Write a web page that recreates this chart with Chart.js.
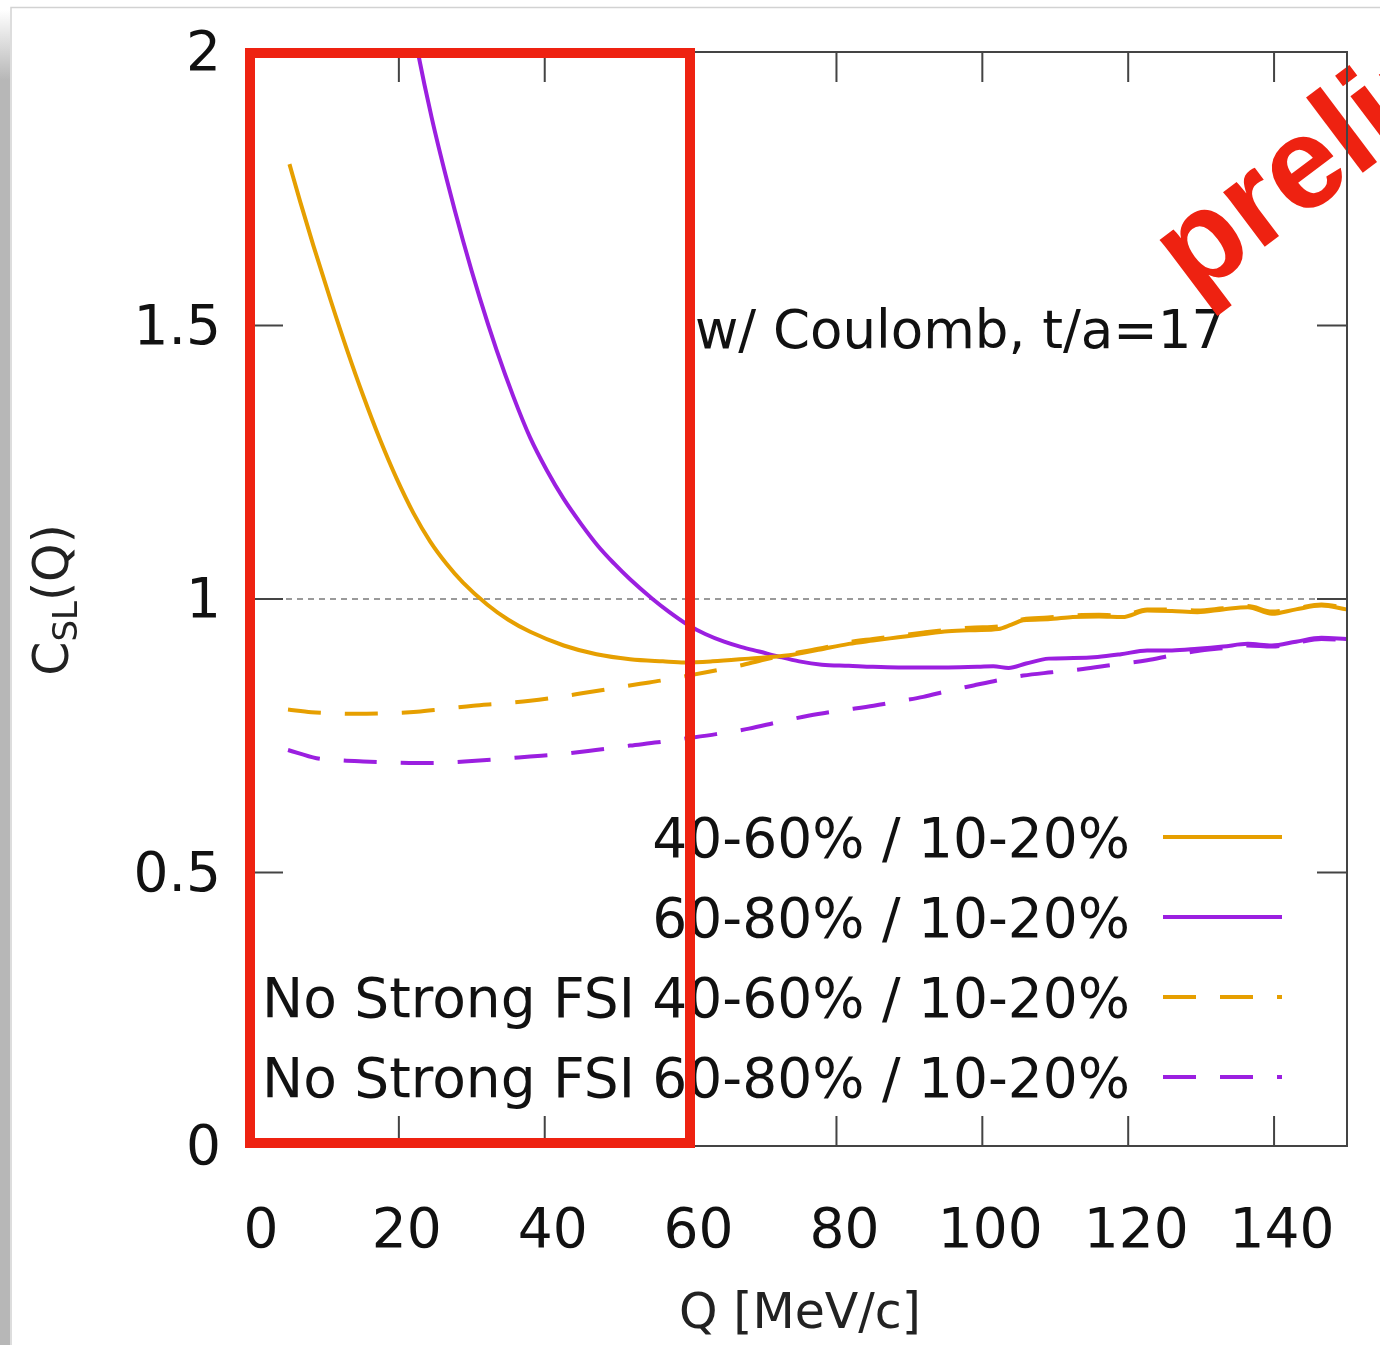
<!DOCTYPE html>
<html>
<head>
<meta charset="utf-8">
<script src="https://cdn.jsdelivr.net/npm/chart.js@4.4.1/dist/chart.umd.min.js"></script>
<style>
  html, body { margin: 0; padding: 0; background: #fff; }
  canvas { display: block; }
</style>
</head>
<body>
<canvas id="myChart" width="1380" height="1345"></canvas>
<script>
// values, Q in MeV/c
var qSolid4060 = [5.0, 6.5, 8.3, 10.6, 12.9, 15.1, 17.4, 19.7, 22, 24.3, 26.5, 28.8, 32.1, 35, 38.0, 42.6, 47.1, 51.7, 56.2, 59.2, 63, 68.0, 73.5, 77.5, 81.7, 85, 88.5, 92, 95.3, 99, 102.2, 104, 105.6, 109, 112.4, 116, 119.2, 122.6, 126, 129.5, 133, 136.4, 139.7, 143, 146.5, 149.9];
var cSolid4060 = [1.795, 1.725, 1.645, 1.548, 1.455, 1.372, 1.292, 1.220, 1.157, 1.105, 1.065, 1.030, 0.990, 0.962, 0.940, 0.915, 0.899, 0.890, 0.886, 0.884, 0.886, 0.891, 0.897, 0.907, 0.918, 0.924, 0.930, 0.936, 0.941, 0.943, 0.945, 0.953, 0.961, 0.963, 0.967, 0.968, 0.967, 0.979, 0.978, 0.976, 0.981, 0.985, 0.973, 0.981, 0.988, 0.981];

var qSolid6080 = [20, 22.6, 24.5, 26.6, 28.8, 31.1, 33.4, 35.7, 38.0, 40.3, 42.6, 45, 47.3, 49.5, 51.7, 54.7, 57, 59.6, 62, 64.6, 67, 69.4, 72, 74.9, 78, 81.7, 85, 88.5, 92, 95.3, 99.4, 101.5, 103.6, 106, 109.1, 112.5, 115.8, 119, 122.6, 126, 129.5, 133, 136.4, 139.7, 143, 146.5, 149.9];
var cSolid6080 = [2.19, 2.0, 1.88, 1.765, 1.655, 1.55, 1.455, 1.37, 1.295, 1.235, 1.183, 1.137, 1.097, 1.065, 1.036, 1.001, 0.977, 0.953, 0.936, 0.922, 0.912, 0.904, 0.895, 0.886, 0.880, 0.878, 0.876, 0.875, 0.875, 0.875, 0.876, 0.877, 0.874, 0.882, 0.891, 0.892, 0.894, 0.899, 0.906, 0.906, 0.909, 0.913, 0.918, 0.915, 0.922, 0.929, 0.927];

var qNoFsi4060 = [4.8, 8, 11, 14.2, 18, 22.5, 26, 30.2, 34, 38.0, 41.5, 45.3, 49, 53.1, 56, 59.3, 62.5, 66.7, 70, 73.5, 77.5, 81.7, 85, 88.5, 92, 95.3, 99, 102.2, 104, 105.6, 109, 112.4, 116, 119.2, 122.6, 126, 129.5, 133, 136.4, 139.7, 143, 146.5, 149.9];
var cNoFsi4060 = [0.798, 0.793, 0.791, 0.790, 0.791, 0.794, 0.799, 0.805, 0.809, 0.814, 0.820, 0.828, 0.836, 0.845, 0.851, 0.859, 0.867, 0.878, 0.889, 0.899, 0.909, 0.921, 0.927, 0.933, 0.939, 0.944, 0.948, 0.950, 0.958, 0.963, 0.966, 0.970, 0.971, 0.970, 0.981, 0.981, 0.979, 0.983, 0.987, 0.977, 0.983, 0.990, 0.984];

var qNoFsi6080 = [4.8, 8.7, 12, 15.1, 19.5, 24.3, 29, 33.4, 38, 42.6, 47, 51.7, 55.5, 59.3, 63.5, 68.0, 72, 76.3, 80.5, 85.1, 88.5, 91.9, 95.3, 98.8, 102, 105.6, 109.5, 113.8, 118, 122.6, 126, 129.5, 133, 136.4, 139.7, 143, 146.5, 149.9];
var cNoFsi6080 = [0.724, 0.709, 0.705, 0.703, 0.701, 0.700, 0.703, 0.707, 0.712, 0.717, 0.724, 0.732, 0.738, 0.745, 0.753, 0.763, 0.775, 0.787, 0.796, 0.805, 0.813, 0.821, 0.832, 0.842, 0.851, 0.860, 0.866, 0.872, 0.880, 0.888, 0.897, 0.905, 0.910, 0.915, 0.913, 0.920, 0.927, 0.925];

var qRef = [0, 150];
var cRef = [1, 1];

var xTicks = [0, 20, 40, 60, 80, 100, 120, 140];
var xTickLabels = ["0", "20", "40", "60", "80", "100", "120", "140"];
var yTicks = [0, 0.5, 1, 1.5, 2];
var yTickLabels = ["0", "0.5", "1", "1.5", "2"];

var legendLabels = [
  "40-60% / 10-20%",
  "60-80% / 10-20%",
  "No Strong FSI 40-60% / 10-20%",
  "No Strong FSI 60-80% / 10-20%"
];
var noteText = "w/ Coulomb, t/a=17";
var stampText = "preliminary";
var xTitle = "Q [MeV/c]";

var ORANGE = "#e69f00";
var PURPLE = "#9b1fe0";
var RED = "#ee2211";
var FAM = '"DejaVu Sans", Verdana, sans-serif';

function toPoints(qs, cs) {
  return qs.map(function (q, i) { return { x: q, y: cs[i] }; });
}

var decor = {
  id: "decor",
  beforeDraw: function (chart) {
    var ctx = chart.ctx;
    ctx.save();
    ctx.fillStyle = "#fff";
    ctx.fillRect(0, 0, chart.width, chart.height);
    // page edge of the screenshot
    var g = ctx.createLinearGradient(0, 10, 0, 80);
    g.addColorStop(0, "#ffffff");
    g.addColorStop(1, "#b7b7b7");
    ctx.fillStyle = g;
    ctx.fillRect(0, 0, 10, 80);
    ctx.fillStyle = "#b7b7b7";
    ctx.fillRect(0, 80, 10, chart.height - 80);
    ctx.strokeStyle = "#d2d2d2";
    ctx.lineWidth = 1.5;
    ctx.beginPath();
    ctx.moveTo(11, chart.height);
    ctx.lineTo(11, 7.5);
    ctx.lineTo(chart.width, 7.5);
    ctx.stroke();
    ctx.restore();
  },
  afterDatasetsDraw: function (chart) {
    var ctx = chart.ctx, a = chart.chartArea;
    var xs = chart.scales.x, ys = chart.scales.y;
    var ds = chart.data.datasets;
    ctx.save();

    ctx.font = "53px " + FAM;
    ctx.fillStyle = "#111";
    ctx.textAlign = "left";
    ctx.textBaseline = "alphabetic";
    ctx.fillText(noteText, 695, 348);

    // key
    ctx.font = "55px " + FAM;
    legendLabels.forEach(function (lab, i) {
      var yb = 857 + 80 * i;
      ctx.textAlign = "right";
      ctx.fillStyle = "#111";
      ctx.fillText(lab, 1130, yb);
      ctx.strokeStyle = ds[i].borderColor;
      ctx.lineWidth = ds[i].borderWidth;
      ctx.setLineDash(ds[i].borderDash || []);
      ctx.beginPath();
      ctx.moveTo(1163, yb - 20);
      ctx.lineTo(1282, yb - 20);
      ctx.stroke();
    });
    ctx.setLineDash([]);

    // stamp
    ctx.save();
    ctx.translate(1194, 300);
    ctx.rotate(-37 * Math.PI / 180);
    ctx.font = "bold 130px 'Liberation Sans', Arial, sans-serif";
    ctx.fillStyle = RED;
    ctx.textAlign = "left";
    ctx.fillText(stampText, 0, 0);
    ctx.restore();

    // frame + inward ticks
    ctx.strokeStyle = "#444";
    ctx.lineWidth = 2;
    ctx.strokeRect(a.left, a.top, a.right - a.left, a.bottom - a.top);
    ctx.beginPath();
    xTicks.forEach(function (v) {
      var px = xs.getPixelForValue(v);
      ctx.moveTo(px, a.bottom); ctx.lineTo(px, a.bottom - 30);
      ctx.moveTo(px, a.top); ctx.lineTo(px, a.top + 30);
    });
    yTicks.forEach(function (v) {
      var py = ys.getPixelForValue(v);
      ctx.moveTo(a.left, py); ctx.lineTo(a.left + 30, py);
      ctx.moveTo(a.right, py); ctx.lineTo(a.right - 30, py);
    });
    ctx.stroke();

    // axis titles
    ctx.fillStyle = "#222";
    ctx.font = "49px " + FAM;
    ctx.textAlign = "center";
    ctx.fillText(xTitle, (a.left + a.right) / 2, 1328);

    ctx.save();
    ctx.translate(68, 600);
    ctx.rotate(-Math.PI / 2);
    var big = "49px " + FAM, small = "34px " + FAM;
    ctx.font = big; var wC = ctx.measureText("C").width; var wQ = ctx.measureText("(Q)").width;
    ctx.font = small; var wS = ctx.measureText("SL").width;
    var x0 = -(wC + wS + wQ) / 2;
    ctx.textAlign = "left";
    ctx.font = big; ctx.fillText("C", x0, 0);
    ctx.font = small; ctx.fillText("SL", x0 + wC, 9);
    ctx.font = big; ctx.fillText("(Q)", x0 + wC + wS, 0);
    ctx.restore();

    // highlight box
    ctx.strokeStyle = RED;
    ctx.lineWidth = 10;
    ctx.strokeRect(250, 53, 440, 1090);

    ctx.restore();
  }
};

new Chart(document.getElementById("myChart"), {
  type: "line",
  data: {
    datasets: [
      { label: legendLabels[0], data: toPoints(qSolid4060, cSolid4060), borderColor: ORANGE, borderWidth: 4, pointRadius: 0, cubicInterpolationMode: "monotone" },
      { label: legendLabels[1], data: toPoints(qSolid6080, cSolid6080), borderColor: PURPLE, borderWidth: 4, pointRadius: 0, cubicInterpolationMode: "monotone" },
      { label: legendLabels[2], data: toPoints(qNoFsi4060, cNoFsi4060), borderColor: ORANGE, borderWidth: 4, borderDash: [33, 24], pointRadius: 0, cubicInterpolationMode: "monotone" },
      { label: legendLabels[3], data: toPoints(qNoFsi6080, cNoFsi6080), borderColor: PURPLE, borderWidth: 4, borderDash: [33, 24], pointRadius: 0, cubicInterpolationMode: "monotone" },
      { label: "C = 1", data: toPoints(qRef, cRef), borderColor: "#9a9a9a", borderWidth: 2, borderDash: [6, 5], pointRadius: 0 }
    ]
  },
  options: {
    responsive: false,
    animation: false,
    devicePixelRatio: 1,
    layout: { padding: { left: 0, right: 33, top: 52, bottom: 0 } },
    plugins: {
      legend: { display: false },
      tooltip: { enabled: false }
    },
    scales: {
      x: {
        type: "linear",
        min: 0,
        max: 150,
        grid: { display: false },
        border: { display: false },
        afterBuildTicks: function (s) { s.ticks = xTicks.map(function (v) { return { value: v }; }); },
        afterFit: function (s) { s.height = 199; s.paddingLeft = 0; s.paddingRight = 0; },
        ticks: {
          font: { family: FAM, size: 55 },
          color: "#111",
          padding: 46,
          labelOffset: 8,
          maxRotation: 0,
          autoSkip: false,
          callback: function (v, i) { return xTickLabels[i]; }
        }
      },
      y: {
        type: "linear",
        min: 0,
        max: 2,
        grid: { display: false },
        border: { display: false },
        afterBuildTicks: function (s) { s.ticks = yTicks.map(function (v) { return { value: v }; }); },
        afterFit: function (s) { s.width = 253; s.paddingTop = 0; s.paddingBottom = 0; },
        ticks: {
          font: { family: FAM, size: 55 },
          color: "#111",
          padding: 24,
          labelOffset: 4,
          callback: function (v, i) { return yTickLabels[i]; }
        }
      }
    }
  },
  plugins: [decor]
});
</script>
</body>
</html>
